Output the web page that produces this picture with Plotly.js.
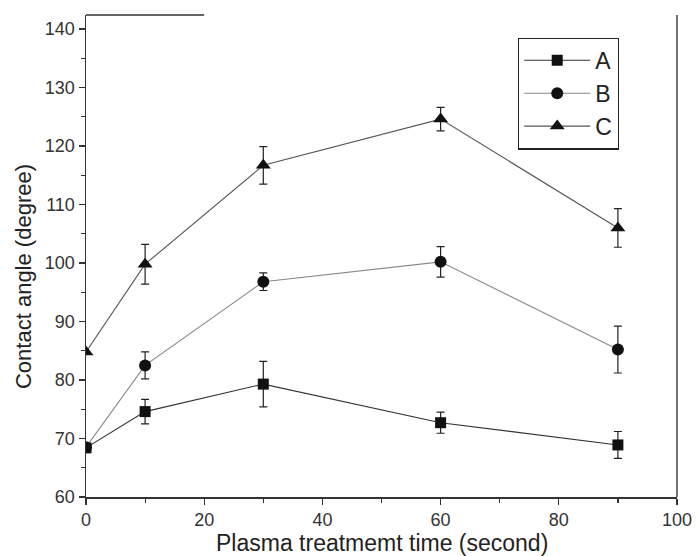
<!DOCTYPE html>
<html>
<head>
<meta charset="utf-8">
<script src="https://cdn.plot.ly/plotly-3.0.1.min.js"></script>
<style>html,body{margin:0;padding:0;background:#fff;}#chart{width:697px;height:556px;}</style>
</head>
<body>
<div id="chart"></div>
<script>
const times = [0, 10, 30, 60, 90];
const seriesNames = ["A", "B", "C"];
const valuesA = [68.4, 74.6, 79.3, 72.7, 68.9];
const errorsA = [0, 2.1, 3.9, 1.8, 2.3];
const valuesB = [68.5, 82.5, 96.8, 100.2, 85.2];
const errorsB = [0, 2.3, 1.5, 2.6, 4.0];
const valuesC = [84.8, 99.8, 116.7, 124.6, 106.0];
const errorsC = [0, 3.4, 3.2, 2.0, 3.3];
const xTicks = [0, 20, 40, 60, 80, 100];
const yTicks = [60, 70, 80, 90, 100, 110, 120, 130, 140];
const xTitle = "Plasma treatmemt time (second)";
const yTitle = "Contact angle (degree)";

const font = "Liberation Sans, Arial, sans-serif";
function mk(name, y, err, symbol, lineColor, size) {
  return {
    type: "scatter", mode: "lines+markers", name: name, x: times, y: y,
    line: {color: lineColor, width: 1.1},
    marker: {symbol: symbol, size: size, color: "#111"},
    error_y: {type: "data", array: err, visible: true, color: "#222", thickness: 1.2, width: 4}
  };
}
const data = [
  mk(seriesNames[0], valuesA, errorsA, "square", "#333", 11),
  mk(seriesNames[1], valuesB, errorsB, "circle", "#888", 12),
  mk(seriesNames[2], valuesC, errorsC, "triangle-up", "#555", 13)
];
const layout = {
  width: 697, height: 556,
  margin: {l: 85.5, r: 20, t: 15, b: 59},
  paper_bgcolor: "#fff", plot_bgcolor: "#fff",
  font: {family: font, color: "#222", size: 18},
  showlegend: true,
  legend: {x: 0.731, y: 0.953, xanchor: "left", yanchor: "top",
    bordercolor: "#222", borderwidth: 1.2, bgcolor: "#fff",
    font: {family: font, size: 23, color: "#222"}, itemwidth: 66, tracegroupgap: 0},
  xaxis: {
    range: [0, 100], tickvals: xTicks, ticktext: xTicks.map(String),
    ticks: "outside", ticklen: 6, tickwidth: 1.2, tickcolor: "#333",
    minor: {dtick: 10, tick0: 0, ticks: "outside", ticklen: 4, tickcolor: "#333", tickwidth: 1.2},
    showgrid: false, zeroline: false, showline: true, linecolor: "#333", linewidth: 1.5, mirror: false,
    tickfont: {family: font, size: 18, color: "#333"}
  },
  yaxis: {
    range: [60, 142.4], tickvals: yTicks, ticktext: yTicks.map(String),
    ticks: "outside", ticklen: 6, tickwidth: 1.2, tickcolor: "#333",
    minor: {dtick: 5, tick0: 60, ticks: "outside", ticklen: 4, tickcolor: "#333", tickwidth: 1.2},
    showgrid: false, zeroline: false, showline: true, linecolor: "#333", linewidth: 1.5, mirror: false,
    tickfont: {family: font, size: 18, color: "#333"}
  },
  annotations: [
    {text: xTitle, xref: "paper", yref: "paper", x: 0.5, y: -0.095, xanchor: "center", yanchor: "middle",
     showarrow: false, font: {family: font, size: 23, color: "#222"}},
    {text: yTitle, xref: "paper", yref: "paper", x: -0.1057, y: 0.4575, xanchor: "center", yanchor: "middle",
     textangle: -90, showarrow: false, font: {family: font, size: 22, color: "#222"}}
  ],
  shapes: [
    {type: "line", xref: "x", yref: "paper", x0: 0, x1: 20, y0: 1, y1: 1, line: {color: "#333", width: 1.5}},
    {type: "line", xref: "paper", yref: "paper", x0: 1, x1: 1, y0: 0, y1: 1, line: {color: "#444", width: 1.5}}
  ]
};
Plotly.newPlot("chart", data, layout, {displayModeBar: false, staticPlot: true});
</script>
</body>
</html>
